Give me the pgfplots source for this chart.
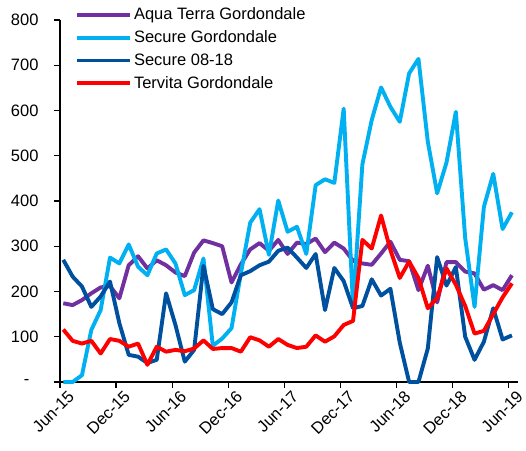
\documentclass[border=0pt]{standalone}
\usepackage{pgfplots}
\pgfplotsset{compat=1.18}
\usepackage{pgfplotstable}
\usepackage{fontspec}
\setmainfont{Liberation Sans}
\newcommand\fs{\fontsize{16.5}{19.5}\selectfont}
\definecolor{cPurple}{RGB}{112,48,160}
\definecolor{cLight}{RGB}{0,176,240}
\definecolor{cDark}{RGB}{0,80,160}
\definecolor{cRed}{RGB}{255,0,0}

\pgfplotstableread{
i aqua lb db red
0 174 0 270 116
1 170 0 233 91
2 181 15 211 85
3 196 115 166 91
4 209 159 189 63
5 212 275 222 95
6 185 262 130 91
7 258 304 60 78
8 278 255 56 85
9 251 236 42 38
10 269 284 49 78
11 258 293 196 67
12 242 262 126 71
13 234 192 45 68
14 286 203 71 74
15 313 273 257 92
16 307 80 161 73
17 300 96 150 75
18 220 119 176 75
19 260 240 236 67
20 293 352 245 99
21 307 382 258 92
22 290 281 266 78
23 314 401 290 95
24 283 332 297 82
25 308 343 275 75
26 305 283 252 78
27 317 435 283 103
28 287 448 159 89
29 308 440 252 101
30 295 604 223 126
31 268 168 163 135
32 262 481 168 314
33 259 579 227 295
34 284 651 191 368
35 310 608 206 292
36 270 575 87 230
37 267 682 0 266
38 203 714 0 230
39 257 531 74 163
40 176 417 276 186
41 265 485 213 251
42 265 597 254 215
43 244 318 100 168
44 240 166 49 107
45 204 387 89 113
46 214 460 163 150
47 203 338 94 187
48 236 375 103 218
}\data

\begin{document}
\begin{tikzpicture}
\begin{axis}[
  name=ax,
  scale only axis, width=458pt, height=362pt,
  xmin=-0.35, xmax=48.65, ymin=0, ymax=800,
  clip=false,
  axis lines*=left,
  axis line style={line width=1.2pt, black},
  tick align=outside, major tick length=6pt,
  tick style={line width=1.2pt, black},
  xtick={-0.35,5.65,11.65,17.65,23.65,29.65,35.65,41.65,47.65},
  xticklabels={Jun-15,Dec-15,Jun-16,Dec-16,Jun-17,Dec-17,Jun-18,Dec-18,Jun-19},
  x tick label style={rotate=45, anchor=north east, font=\fs, inner sep=1pt, xshift=5pt, yshift=-5pt},
  ytick={0,100,200,300,400,500,600,700,800},
  yticklabels={-\hphantom{0},100,200,300,400,500,600,700,800},
  y tick label style={font=\fs, xshift=-12pt},
  legend style={at={(axis description cs:0.026,1.045)}, anchor=north west,
    draw=none, fill=none, font=\fs, row sep=5.6pt,
    /tikz/every even column/.append style={column sep=0pt}},
  legend cell align=left,
  legend image code/.code={\draw[#1] (0pt,0pt) -- (53pt,0pt);},
  every axis plot/.append style={line width=3.9pt, line join=round, mark=none},
]
\addplot[cPurple] table[x=i, y=aqua] {\data};
\addlegendentry{Aqua Terra Gordondale}
\addplot[cLight] table[x=i, y=lb] {\data};
\addlegendentry{Secure Gordondale}
\addplot[cDark] table[x=i, y=db] {\data};
\addlegendentry{Secure 08-18}
\addplot[cRed] table[x=i, y=red] {\data};
\addlegendentry{Tervita Gordondale}
\end{axis}
\path (ax.south west) ++(-60pt,-68pt) coordinate (bl);
\path (ax.north east) ++(8pt,20pt) coordinate (tr);
\pgfresetboundingbox
\path (bl) rectangle (tr);
\end{tikzpicture}
\end{document}
